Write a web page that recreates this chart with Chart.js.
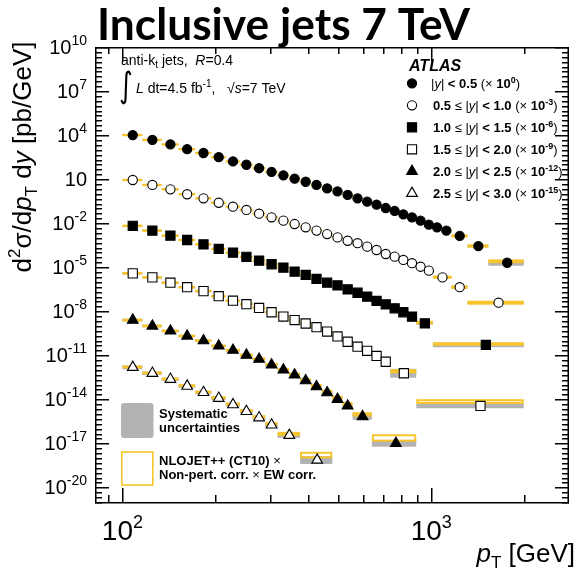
<!DOCTYPE html>
<html><head><meta charset="utf-8">
<script src="https://cdn.jsdelivr.net/npm/chart.js@4.4.1/dist/chart.umd.min.js"></script>
<style>html,body{margin:0;padding:0;background:#fff;}#c{display:block;}</style>
</head><body>
<canvas id="c" width="577" height="577"></canvas>
<script>
// ---------------- data ----------------
const seriesLabels = ['|y| < 0.5','0.5 \u2264 |y| < 1.0','1.0 \u2264 |y| < 1.5','1.5 \u2264 |y| < 2.0','2.0 \u2264 |y| < 2.5','2.5 \u2264 |y| < 3.0'];
const scaleExps = ['0','-3','-6','-9','-12','-15'];
const scaleFactors = [1,1e-3,1e-6,1e-9,1e-12,1e-15];

// pT bin edges [GeV] for each rapidity bin
const edges1 = [100,116,134,152,172,194,216,240,264,290,318,346,376,408,442,478,516,556,598,642,688,736,786,838,894,952,1012,1076,1162,1310,1530,1992];
const edges2 = [100,116,134,152,172,194,216,240,264,290,318,346,376,408,442,478,516,556,598,642,688,736,786,838,894,952,1012,1162,1310,1992];
const edges3 = [100,116,134,152,172,194,216,240,264,290,318,346,376,408,442,478,516,556,598,642,688,736,786,838,894,1012,1992];
const edges4 = [100,116,134,152,172,194,216,240,264,290,318,346,376,408,442,478,516,556,598,642,688,736,894,1992];
const edges5 = [100,116,134,152,172,194,216,240,264,290,318,346,376,408,442,478,516,556,642,894];
const edges6 = [100,116,134,152,172,194,216,240,264,290,318,376,478];

// measured cross sections d2sigma/dpT dy [pb/GeV] (before legend scale factor)
const vals1 = [1.0e4,4.7e3,2.3e3,1.1e3,600,310,160,95,55,31,18,10.7,6.6,4.0,2.3,1.45,0.83,0.49,0.29,0.18,0.107,0.068,0.040,0.025,0.0148,0.0079,0.0052,0.0031,0.00135,2.75e-4,2.0e-5];
const vals2 = [8.7e3,4.0e3,2.0e3,930,490,245,132,79,44,25,14.8,8.7,5.2,3.1,1.8,1.07,0.63,0.43,0.25,0.148,0.079,0.052,0.031,0.0186,0.0107,0.0058,0.0020,4.3e-4,3.8e-5];
const vals3 = [6.5e3,3.1e3,1.4e3,710,360,174,98,51,27.5,15.8,9.3,4.9,2.95,1.58,0.87,0.575,0.31,0.18,0.098,0.050,0.029,0.0158,0.0085,0.0043,0.0015,5.0e-5];
const vals4 = [3.8e3,2.0e3,870,430,234,105,52,30,16.6,8.5,4.3,2.5,1.45,0.81,0.41,0.19,0.083,0.038,0.020,0.0089,0.0036,5.9e-4,3.5e-6];
const vals5 = [2.5e3,980,450,204,98,43,22,10.2,5.4,2.2,1.0,0.46,0.186,0.072,0.028,0.010,0.0035,6.6e-4,1.0e-5];
const vals6 = [1.5e3,590,230,79,29,11.7,4.3,1.5,0.55,0.178,0.035,7.2e-4];

// theory / data ratio (NLOJET++ CT10 x corrections)
const th1 = [1,1,1,1,1,1,1,1,1,1,1,1,1,1,1,1,1,1,1,1,1,1,1,1,1,1,1,1,1,1,1.25];
const th2 = [1,1,1,1,1,1,1,1,1,1,1,1,1,1,1,1,1,1,1,1,1,1,1,1,1,1,1.03,1.02,1.0];
const th3 = [1,1,1,1,1,1,1,1,1,1,1,1,1,1,1,1,1,1,1,1,1.03,1.05,1.07,1.1,1.12,1.17];
const th4 = [1,1,1,1,1,1,1,1,1,1,1,1,1.03,1.05,1.07,1.1,1.14,1.18,1.22,1.27,1.3,1.37,1.98];
const th5 = [1,1,1,1,1,1,1,1.02,1.04,1.06,1.08,1.1,1.12,1.15,1.2,1.3,1.35,1.41,2.3];
const th6 = [1.05,1.05,1.05,1.08,1.08,1.1,1.1,1.12,1.15,1.2,1.25,2.19];
// theory relative uncertainty
const tu1 = [.03,.03,.03,.03,.03,.03,.03,.03,.03,.03,.03,.03,.03,.03,.03,.03,.03,.04,.04,.04,.05,.05,.05,.06,.06,.07,.07,.08,.09,.1,.14];
const tu2 = [.03,.03,.03,.03,.03,.03,.03,.03,.03,.03,.03,.03,.03,.03,.03,.03,.04,.04,.04,.05,.05,.05,.06,.06,.07,.08,.1,.14,.17];
const tu3 = [.04,.04,.04,.04,.04,.04,.04,.04,.04,.04,.04,.04,.04,.04,.05,.05,.05,.05,.06,.06,.07,.08,.09,.1,.12,.12];
const tu4 = [.05,.05,.05,.05,.05,.05,.05,.05,.05,.05,.05,.06,.06,.07,.07,.08,.09,.1,.11,.12,.13,.17,.24];
const tu5 = [.05,.05,.05,.05,.05,.05,.06,.06,.07,.07,.08,.09,.1,.11,.12,.14,.16,.2,.53];
const tu6 = [.06,.06,.06,.06,.06,.07,.08,.09,.1,.12,.18,.43];
// data systematic relative uncertainty
const sy1 = [.08,.07,.07,.06,.06,.06,.06,.06,.06,.06,.06,.06,.06,.06,.06,.06,.07,.07,.07,.08,.08,.09,.09,.1,.11,.12,.13,.14,.17,.22,.6];
const sy2 = [.09,.08,.07,.07,.07,.07,.07,.07,.07,.07,.07,.07,.07,.07,.07,.08,.08,.08,.09,.09,.1,.1,.11,.12,.13,.14,.17,.22,.25];
const sy3 = [.1,.09,.08,.08,.08,.08,.08,.08,.08,.08,.08,.08,.09,.09,.09,.1,.1,.11,.12,.13,.14,.15,.16,.18,.25,.43];
const sy4 = [.2,.18,.16,.15,.15,.15,.15,.15,.16,.16,.17,.18,.19,.2,.22,.24,.26,.28,.3,.33,.36,1.0,.43];
const sy5 = [.25,.22,.2,.2,.2,.2,.2,.21,.22,.23,.25,.27,.3,.33,.36,.4,.45,.68,.7];
const sy6 = [.35,.32,.3,.3,.3,.32,.34,.36,.4,.45,.5,.87];

// axis ticks
const xTickVals = [100,1000];
const xTickExps = ['2','3'];
const yTickVals = [1e10,1e7,1e4,10,1e-2,1e-5,1e-8,1e-11,1e-14,1e-17,1e-20];
const yTickExps = ['10','7','4','','-2','-5','-8','-11','-14','-17','-20'];
const xRange = [81.5, 2800];
const yRange = [1e-21, 1e10];

// ---------------- drawing ----------------
const allEdges = [edges1,edges2,edges3,edges4,edges5,edges6];
const allVals = [vals1,vals2,vals3,vals4,vals5,vals6];
const allTh = [th1,th2,th3,th4,th5,th6];
const allTu = [tu1,tu2,tu3,tu4,tu5,tu6];
const allSy = [sy1,sy2,sy3,sy4,sy5,sy6];
const markerStyle = ['circle','circle','rect','rect','triangle','triangle'];
const markerFilled = [true,false,true,false,true,false];
const markerRadius = [4.6,4.6,6.5,6.5,6.2,6.2];
const YEL = '#f7c52b', GRAY = '#b3b3b3';
const FONT = '"Liberation Sans", Arial, Helvetica, sans-serif';

const datasets = allVals.map((vals, s) => ({
  label: seriesLabels[s],
  data: vals.map((v, i) => ({x: (allEdges[s][i] + allEdges[s][i+1]) / 2, y: v * scaleFactors[s]})),
  pointStyle: markerStyle[s],
  pointRadius: markerRadius[s],
  pointHoverRadius: markerRadius[s],
  pointBackgroundColor: markerFilled[s] ? '#000' : '#fff',
  pointBorderColor: '#000',
  pointBorderWidth: 1.1,
  showLine: false
}));

function rich(ctx, x, y, segs, align) {
  let w = 0;
  for (const s of segs) { ctx.font = s[1]; w += ctx.measureText(s[0]).width; }
  let cx = align === 'right' ? x - w : align === 'center' ? x - w / 2 : x;
  for (const s of segs) { ctx.font = s[1]; ctx.fillText(s[0], cx, y + (s[2] || 0)); cx += ctx.measureText(s[0]).width; }
  return w;
}

const boxPlugin = {
  id: 'boxes',
  beforeDatasetsDraw(chart) {
    const ctx = chart.ctx, a = chart.chartArea;
    const xs = chart.scales.x, ys = chart.scales.y;
    ctx.save();
    ctx.beginPath(); ctx.rect(a.left, a.top, a.right - a.left, a.bottom - a.top); ctx.clip();
    for (let s = 0; s < 6; s++) {
      const E = allEdges[s], V = allVals[s], k = scaleFactors[s];
      for (let i = 0; i < V.length; i++) {
        const x0 = xs.getPixelForValue(E[i]), x1 = xs.getPixelForValue(E[i+1]);
        const v = V[i] * k, u = allSy[s][i];
        const yt = ys.getPixelForValue(v * (1 + u)), yb = ys.getPixelForValue(v / (1 + u));
        ctx.fillStyle = GRAY; ctx.fillRect(x0, yt, x1 - x0, yb - yt);
      }
    }
    ctx.strokeStyle = YEL; ctx.lineWidth = 2;
    for (let s = 0; s < 6; s++) {
      const E = allEdges[s], V = allVals[s], k = scaleFactors[s];
      for (let i = 0; i < V.length; i++) {
        const x0 = xs.getPixelForValue(E[i]), x1 = xs.getPixelForValue(E[i+1]);
        const t = V[i] * k * allTh[s][i], u = allTu[s][i];
        const yt = ys.getPixelForValue(t * (1 + u)), yb = ys.getPixelForValue(t / (1 + u));
        ctx.strokeRect(x0 + 1, yt, x1 - x0 - 2, yb - yt);
      }
    }
    ctx.restore();
  }
};

function drawDeco(chart) {
  const ctx = chart.ctx, a = chart.chartArea;
  const xs = chart.scales.x, ys = chart.scales.y;
  const L0 = Math.round(a.left), R0 = Math.round(a.right), T0 = Math.round(a.top), B0 = Math.round(a.bottom);
  ctx.save();
  ctx.fillStyle = '#000000';
  // frame
  ctx.fillRect(L0, T0, 1.5, B0 - T0 + 1);
  ctx.fillRect(R0 - 1.5, T0, 1.5, B0 - T0 + 1);
  ctx.fillRect(L0, T0, R0 - L0, 1.5);
  ctx.fillRect(L0, B0, R0 - L0, 1.5);
  // x ticks (major at decades, minor at 2..9)
  const xt = [];
  for (let d = 1; d <= 3; d++) for (let m = 1; m <= 9; m++) xt.push([m * Math.pow(10, d), m === 1]);
  for (const [v, major] of xt) {
    if (v < xRange[0] || v > xRange[1]) continue;
    const px = Math.round(xs.getPixelForValue(v));
    const len = major ? 14 : 7;
    ctx.fillRect(px, B0 - len, 1.5, len);
    ctx.fillRect(px, T0, 1.5, len);
  }
  // y ticks every third of a decade, long ones at labelled decades
  for (let e = -63; e <= 30; e++) {
    const v = Math.pow(10, e / 3);
    if (v < yRange[0] * 0.999 || v > yRange[1] * 1.001) continue;
    const py = Math.round(ys.getPixelForValue(v));
    const len = (((e % 9) + 9) % 9 === 3) ? 14 : 7;
    ctx.fillRect(L0, py, len, 1.5);
    ctx.fillRect(R0 - len, py, len, 1.5);
  }
  ctx.textBaseline = 'alphabetic';
  // y tick labels
  yTickVals.forEach((v, i) => {
    const py = ys.getPixelForValue(v);
    const segs = [['10', '20px ' + FONT, 0]];
    if (yTickExps[i]) segs.push([yTickExps[i], '14px ' + FONT, -9]);
    rich(ctx, 87, py + 7, segs, 'right');
  });
  // x tick labels
  xTickVals.forEach((v, i) => {
    const px = xs.getPixelForValue(v);
    rich(ctx, px, 540, [['10', '28px ' + FONT, 0], [xTickExps[i], '18px ' + FONT, -12]], 'center');
  });
  // x title
  rich(ctx, 575, 562, [['p', 'italic 26px ' + FONT, 0], ['T', '17px ' + FONT, 6], [' [GeV]', '26px ' + FONT, 0]], 'right');
  // y title
  ctx.save();
  ctx.translate(31, 157); ctx.rotate(-Math.PI / 2);
  rich(ctx, 0, 0, [['d', '26px ' + FONT, 0], ['2', '17px ' + FONT, -11], ['\u03c3/d', '26px ' + FONT, 0],
    ['p', 'italic 26px ' + FONT, 0], ['T', '17px ' + FONT, 6], [' d', '26px ' + FONT, 0], ['y', 'italic 26px ' + FONT, 0],
    [' [pb/GeV]', '26px ' + FONT, 0]], 'center');
  ctx.restore();
  // top-left labels
  rich(ctx, 121, 65, [['anti-k', '14px ' + FONT, 0], ['t', '10px ' + FONT, 3], [' jets,  ', '14px ' + FONT, 0], ['R', 'italic 14px ' + FONT, 0], ['=0.4', '14px ' + FONT, 0]]);
  ctx.save(); ctx.translate(119, 97); ctx.scale(1, 1.35);
  ctx.font = '26px "DejaVu Sans"'; ctx.fillText('\u222b', 0, 0); ctx.restore();
  rich(ctx, 136, 93, [['L', 'italic 14px ' + FONT, 0], [' dt=4.5 fb', '14px ' + FONT, 0], ['-1', '10px ' + FONT, -6], [',   ', '14px ' + FONT, 0],
    ['\u221a', '14px ' + FONT, 0], ['s', 'italic 14px ' + FONT, 0], ['=7 TeV', '14px ' + FONT, 0]]);
  // ATLAS legend
  rich(ctx, 409, 70.5, [['ATLAS', 'bold italic 16px ' + FONT, 0]]);
  for (let s = 0; s < 6; s++) {
    const cy = 83.3 + s * 22;
    ctx.fillStyle = markerFilled[s] ? '#000' : '#fff'; ctx.strokeStyle = '#000'; ctx.lineWidth = 1.1;
    Chart.helpers.drawPoint(ctx, {pointStyle: markerStyle[s], radius: markerRadius[s], rotation: 0, borderWidth: 1.1}, 412, cy);
    ctx.fillStyle = '#000';
    const B = 'bold 13px ' + FONT, R = '13px ' + FONT, I = 'italic 13px ' + FONT;
    let segs;
    if (s === 0) segs = [['|', R], ['y', I], ['| ', R], ['< 0.5 ', B]];
    else {
      const p = seriesLabels[s].split(' ');
      segs = [[p[0] + ' ', B], ['\u2264 |', R], ['y', I], ['| ', R], ['< ' + p[4] + ' ', B]];
    }
    segs.push(['(\u00d7 ', R], ['10', B], [scaleExps[s], 'bold 9px ' + FONT, -5], [')', R]);
    rich(ctx, s === 0 ? 431 : 433, cy + 5, segs.map(q => [q[0], q[1], q[2] || 0]));
  }
  // bottom-left legend
  ctx.fillStyle = GRAY;
  ctx.beginPath(); ctx.roundRect(121, 403, 32.5, 35, 3); ctx.fill();
  ctx.strokeStyle = YEL; ctx.lineWidth = 1.6;
  ctx.strokeRect(121.8, 452, 31, 33);
  ctx.fillStyle = '#000';
  const LB = 'bold 13px ' + FONT;
  rich(ctx, 159, 418, [['Systematic', LB]]);
  rich(ctx, 159, 432, [['uncertainties', LB]]);
  rich(ctx, 159, 465, [['NLOJET++ (CT10) ', LB], ['\u00d7', '13px ' + FONT]]);
  rich(ctx, 159, 479, [['Non-pert. corr. ', LB], ['\u00d7', '13px ' + FONT], [' EW corr.', LB]]);
  // big title
  ctx.save();
  ctx.font = 'bold 43px Lato, "Open Sans", sans-serif';
  const tw = ctx.measureText('Inclusive jets 7 TeV').width;
  ctx.translate(97, 40); ctx.scale(373 / tw, 1);
  ctx.fillText('Inclusive jets 7 TeV', 0, 0);
  ctx.restore();
  ctx.restore();
}

const decoPlugin = { id: 'deco', afterDraw(chart) { drawDeco(chart); } };

new Chart(document.getElementById('c'), {
  type: 'scatter',
  data: {datasets},
  options: {
    responsive: false, animation: false, devicePixelRatio: 1,
    layout: {padding: {left: 95, right: 1, top: 47, bottom: 75}},
    plugins: {legend: {display: false}, tooltip: {enabled: false}, title: {display: false}},
    scales: {
      x: {type: 'logarithmic', min: xRange[0], max: xRange[1], display: false},
      y: {type: 'logarithmic', min: yRange[0], max: yRange[1], display: false}
    }
  },
  plugins: [boxPlugin, decoPlugin]
});
</script>
</body></html>
